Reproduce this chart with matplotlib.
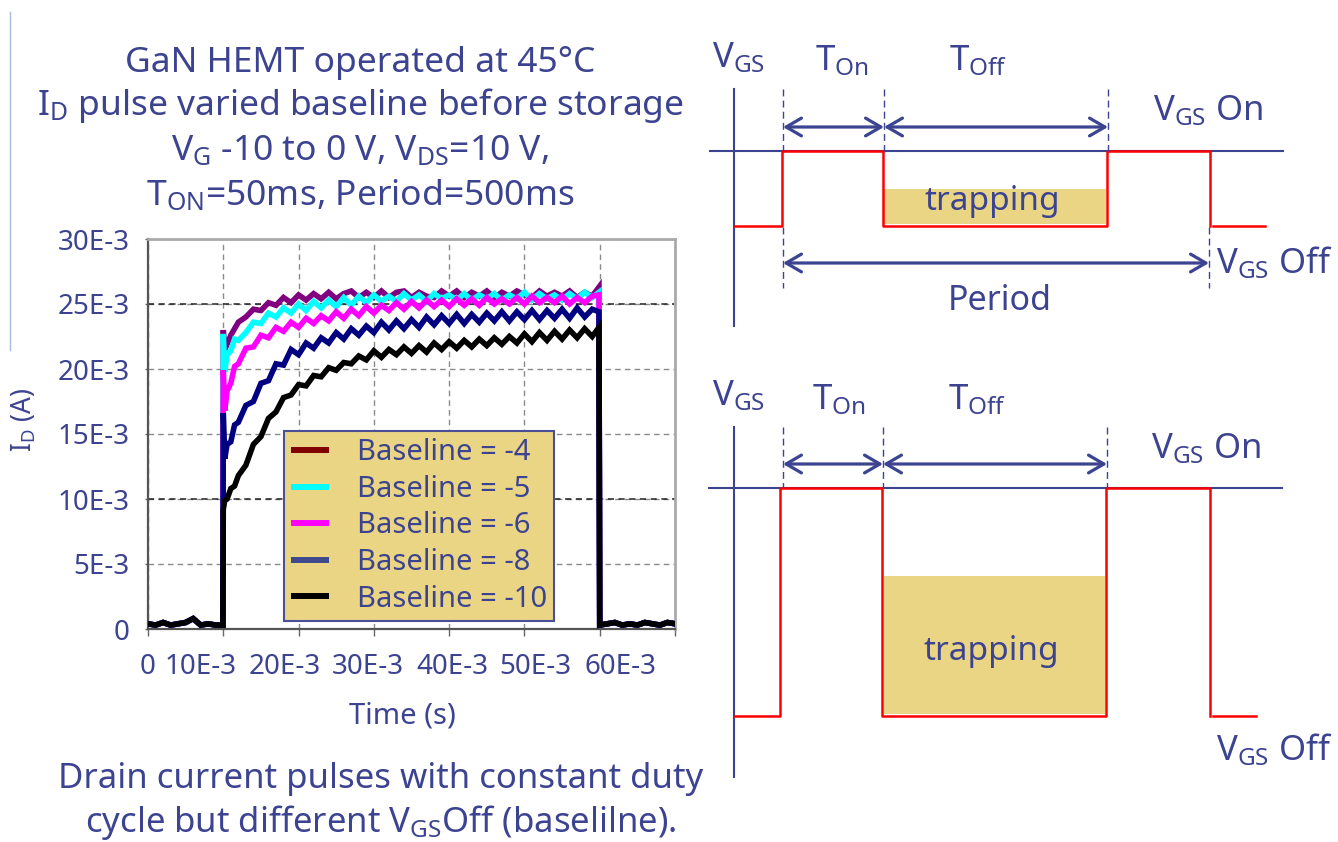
import numpy as np
import matplotlib
matplotlib.use("Agg")
import matplotlib.pyplot as plt
from matplotlib.lines import Line2D
from matplotlib.patches import Rectangle

plt.rcParams['font.family'] = ['Noto Sans', 'DejaVu Sans']
plt.rcParams['mathtext.fontset'] = 'custom'
plt.rcParams['mathtext.rm'] = 'Noto Sans'
plt.rcParams['mathtext.it'] = 'Noto Sans:italic'
plt.rcParams['mathtext.bf'] = 'Noto Sans:bold'

TXT = '#3C4390'

# ---------------- data (time in ms, current in mA) ----------------
pre_t_ms = [0, 1, 2, 3, 4, 5, 6, 7, 8, 9, 9.95]
pre_mA = [0.4, 0.3, 0.5, 0.3, 0.4, 0.5, 0.8, 0.3, 0.4, 0.3, 0.3]

pulse_t_ms = [10.0, 10.2, 10.5, 11, 11.5, 12,
              13, 14, 15, 16, 17, 18, 19, 20, 21, 22,
              23, 24, 25, 26, 27, 28, 29, 30, 31, 32,
              33, 34, 35, 36, 37, 38, 39, 40, 41, 42,
              43, 44, 45, 46, 47, 48, 49, 50, 51, 52,
              53, 54, 55, 56, 57, 58, 59, 59.9]

post_t_ms = [60.0, 61, 62, 63, 64, 65, 66, 67, 68, 69, 70]
post_mA = [0.3, 0.4, 0.5, 0.3, 0.4, 0.3, 0.5, 0.4, 0.3, 0.5, 0.4]

id_base_m4 = [23.0, 21.5, 21.9, 22.6, 23.1, 23.6,
              24.0, 24.6, 24.5, 25.1, 24.9, 25.5, 25.1, 25.7, 25.3, 25.8,
              25.4, 25.9, 25.4, 25.8, 26.0, 25.5, 25.9, 25.5, 26.0, 25.5,
              25.9, 26.0, 25.5, 25.9, 25.6, 25.5, 26.0, 25.6, 26.0, 25.5,
              25.9, 25.6, 26.0, 25.5, 25.9, 25.6, 26.0, 25.7, 25.5, 26.0,
              25.6, 25.9, 25.6, 26.0, 25.5, 25.9, 25.6, 26.3]
id_base_m5 = [22.7, 19.8, 21.1, 21.4, 22.3, 22.2,
              22.8, 23.6, 23.5, 24.3, 24.0, 24.7, 24.3, 25.0, 24.5, 25.2,
              24.7, 25.3, 24.8, 25.5, 24.9, 25.6, 25.1, 25.7, 25.2, 25.6,
              25.2, 25.8, 25.3, 25.7, 25.2, 25.8, 25.4, 25.7, 25.3, 25.8,
              25.3, 25.7, 25.4, 25.8, 25.3, 25.7, 25.4, 25.9, 25.3, 25.8,
              25.4, 25.7, 25.3, 25.8, 25.4, 25.9, 25.5, 25.9]
id_base_m6 = [19.9, 16.8, 18.3, 18.9, 20.2, 20.4,
              21.6, 21.7, 22.6, 22.4, 23.2, 22.9, 23.6, 23.2, 23.9, 23.5,
              24.1, 23.7, 24.4, 23.9, 24.6, 24.1, 24.8, 24.3, 24.9, 24.5,
              25.1, 24.6, 25.2, 24.7, 25.3, 24.8, 25.3, 24.8, 25.4, 24.9,
              25.4, 24.9, 25.5, 25.0, 25.4, 25.0, 25.5, 25.0, 25.6, 25.1,
              25.5, 25.1, 25.6, 25.0, 25.5, 25.1, 25.6, 25.7]
id_base_m8 = [16.6, 13.1, 14.2, 14.4, 15.7, 15.9,
              17.2, 17.5, 18.9, 19.1, 20.4, 20.3, 21.5, 21.1, 22.0, 21.6,
              22.4, 22.0, 22.8, 22.3, 23.1, 22.6, 23.3, 22.8, 23.6, 23.0,
              23.7, 23.1, 23.8, 23.2, 24.0, 23.4, 24.1, 23.5, 24.2, 23.5,
              24.2, 23.6, 24.3, 23.7, 24.4, 23.7, 24.4, 23.8, 24.5, 23.8,
              24.5, 23.9, 24.6, 23.9, 24.7, 24.0, 24.6, 24.4]
id_base_m10 = [9.2, 9.9, 10.0, 10.8, 11.0, 11.8,
               12.6, 14.2, 14.8, 16.2, 16.7, 17.8, 18.0, 18.8, 18.7, 19.5,
               19.4, 20.1, 19.9, 20.5, 20.4, 21.0, 20.7, 21.4, 20.9, 21.5,
               21.1, 21.7, 21.2, 21.8, 21.3, 22.0, 21.5, 22.1, 21.6, 22.2,
               21.7, 22.3, 21.8, 22.4, 21.9, 22.5, 22.0, 22.7, 22.1, 22.8,
               22.2, 22.9, 22.3, 23.0, 22.4, 23.1, 22.5, 23.2]

legend_labels = ['Baseline = -4', 'Baseline = -5', 'Baseline = -6', 'Baseline = -8', 'Baseline = -10']
series_values = [id_base_m4, id_base_m5, id_base_m6, id_base_m8, id_base_m10]
line_colors = ['#800080', '#00FFFF', '#FF00FF', '#000080', '#000000']
legend_colors = ['#800000', '#00FFFF', '#FF00FF', '#3F4A8C', '#000000']

ytick_vals = [0, 5e-3, 10e-3, 15e-3, 20e-3, 25e-3, 30e-3]
ytick_labels = ['0', '5E-3', '10E-3', '15E-3', '20E-3', '25E-3', '30E-3']
xtick_vals = [0, 10e-3, 20e-3, 30e-3, 40e-3, 50e-3, 60e-3, 70e-3]
xtick_labels = ['0', '10E-3', '20E-3', '30E-3', '40E-3', '50E-3', '60E-3']
xlabel_pos = [0.0, 7.0e-3, 18.1e-3, 29.2e-3, 40.4e-3, 51.5e-3, 62.7e-3]
dark_grid_y = [10e-3, 25e-3]

W, H = 1338, 842
fig = plt.figure(figsize=(W / 100, H / 100), dpi=100, facecolor='white')

# overlay axes in pixel coordinates for texts and schematic diagrams
ov = fig.add_axes([0, 0, 1, 1], zorder=0)
ov.set_xlim(0, W)
ov.set_ylim(H, 0)
ov.axis('off')

# ---------------- main chart ----------------
ax = fig.add_axes([148 / W, 1 - 629 / H, 527 / W, 390 / H], zorder=2)
ax.set_xlim(0, 70e-3)
ax.set_ylim(0, 30e-3)

for vals, col in zip(series_values, line_colors):
    t = np.array(pre_t_ms + pulse_t_ms + post_t_ms) * 1e-3
    y = np.array(pre_mA + vals + post_mA) * 1e-3
    ax.plot(t, y, color=col, lw=4, solid_joinstyle='miter', zorder=3)

ax.xaxis.remove_overlapping_locs = False
ax.set_xticks(xtick_vals)
ax.set_xticklabels([])
ax.set_xticks(xlabel_pos, labels=xtick_labels, minor=True)
ax.tick_params(axis='x', which='major', length=5, width=1, color='#666666', direction='out')
ax.tick_params(axis='x', which='minor', length=0, pad=17.5, labelsize=20, labelcolor=TXT)
ax.set_yticks(ytick_vals, labels=ytick_labels)
ax.tick_params(axis='y', length=2.5, width=1, color='#666666', pad=10.5, labelsize=20, labelcolor=TXT)

ax.grid(True, which='major', color='#8a8a8a', ls=(0, (4, 3)), lw=1)
for yv in dark_grid_y:
    ax.axhline(yv, color='#222222', ls=(0, (4, 3)), lw=1.1, zorder=1)
ax.set_axisbelow(True)

for side in ['left', 'bottom']:
    ax.spines[side].set_color('#555555')
    ax.spines[side].set_linewidth(1.6)
for side in ['top', 'right']:
    ax.spines[side].set_color('#AAAAAA')
    ax.spines[side].set_linewidth(2)

ax.set_xlabel('Time (s)', fontsize=21, color=TXT, va='top')
ax.xaxis.set_label_coords((402 - 148) / 527, (629 - 701) / 390)
ax.set_ylabel(r'I$_\mathregular{D}$ (A)', fontsize=19, color=TXT)
ax.yaxis.set_label_coords((38 - 148) / 527, (629 - 420) / 390)

handles = [Line2D([], [], color=c, lw=4.3, solid_capstyle='butt') for c in legend_colors]
leg = ax.legend(handles, legend_labels, loc='upper left', bbox_to_anchor=((284 - 148) / 527, (629 - 431) / 390),
                borderaxespad=0, fontsize=21, labelcolor=TXT, facecolor='#EAD585', edgecolor='#4A4F96',
                framealpha=1, fancybox=False, handlelength=1.3, handletextpad=0.95, labelspacing=0.26,
                borderpad=0.25)
leg.get_frame().set_linewidth(1.5)
leg.set_zorder(5)

# ---------------- titles ----------------
title_lines = ['GaN HEMT operated at 45°C',
               r'I$_\mathregular{D}$ pulse varied baseline before storage',
               r'V$_\mathregular{G}$ -10 to 0 V, V$_\mathregular{DS}$=10 V,',
               r'T$_\mathregular{ON}$=50ms, Period=500ms']
title_base = [72, 115, 160, 205]
for s, yb in zip(title_lines, title_base):
    ov.text(360, yb, s, ha='center', va='baseline', fontsize=25.5, color=TXT)

bottom_lines = ['Drain current pulses with constant duty',
                r'cycle but different V$_\mathregular{GS}$Off (baselilne).']
bottom_base = [788, 832]
for s, yb in zip(bottom_lines, bottom_base):
    ov.text(381, yb, s, ha='center', va='baseline', fontsize=25, color=TXT)

ov.plot([10, 10], [12, 350], color='#AAB6E6', lw=1)

# ---------------- schematic diagrams ----------------
RED = '#FF0000'
KHAKI = '#EAD585'
arrow_style = '<->,head_length=0.55,head_width=0.32'


def arrow(x1, x2, y):
    ov.annotate('', xy=(x2, y), xytext=(x1, y),
                arrowprops=dict(arrowstyle=arrow_style, lw=2.3, color=TXT, shrinkA=0, shrinkB=0,
                                mutation_scale=20))


def dashed(x, y1, y2):
    ov.plot([x, x], [y1, y2], color=TXT, lw=1, ls=(0, (5, 3)))


def panel(p):
    yon, yoff = p['y_on'], p['y_off']
    ov.plot([734, 734], p['axis'], color=TXT, lw=1.5)
    ov.plot([p['hx0'], p['hx1']], [yon, yon], color=TXT, lw=1.5)
    tx0, tx1, tt, tb = p['trap']
    ov.add_patch(Rectangle((tx0, tt), tx1 - tx0, tb - tt, facecolor=KHAKI, edgecolor='none'))
    xs = p['edges']
    ov.plot([735, xs[0], xs[0], xs[1], xs[1], xs[2], xs[2], xs[3], xs[3]],
            [yoff, yoff, yon, yon, yoff, yoff, yon, yon, yoff], color=RED, lw=1.8)
    ov.plot([xs[3] + 3, p['tail']], [yoff, yoff], color=RED, lw=1.8)
    for x, y1, y2 in p['dashes']:
        dashed(x, y1, y2)
    for x1, x2, y in p['arrows']:
        arrow(x1, x2, y)
    fs = 25
    ov.text(712, p['vgs_b'], r'V$_\mathregular{GS}$', fontsize=fs, color=TXT, va='baseline')
    ov.text(p['ton_x'], p['t_b'], r'T$_\mathregular{On}$', fontsize=fs, color=TXT, va='baseline')
    ov.text(p['toff_x'], p['t_b'], r'T$_\mathregular{Off}$', fontsize=fs, color=TXT, va='baseline')
    ov.text(p['on_x'], p['on_b'], r'V$_\mathregular{GS}$ On', fontsize=fs, color=TXT, va='baseline')
    ov.text(p['off_x'], p['off_b'], r'V$_\mathregular{GS}$ Off', fontsize=fs, color=TXT, va='baseline')
    ov.text(p['trap_tx'], p['trap_tb'], 'trapping', fontsize=24, color=TXT, ha='center', va='baseline')
    if p.get('period'):
        px, pb = p['period']
        ov.text(px, pb, 'Period', fontsize=24.5, color=TXT, ha='center', va='baseline')


top_panel = dict(y_on=151, y_off=226, axis=[89, 326], hx0=710, hx1=1283,
                 trap=(884, 1106, 189, 224), edges=[782, 883, 1107, 1210], tail=1265,
                 dashes=[(783, 89, 151), (783, 227, 288), (884, 89, 151), (1108, 89, 151), (1209, 227, 288)],
                 arrows=[(783, 884, 127), (884, 1108, 127), (783, 1209, 263)],
                 vgs_b=67, ton_x=815, toff_x=949, t_b=70, on_x=1153, on_b=120, off_x=1216, off_b=273,
                 trap_tx=992, trap_tb=210, period=(1000, 310))
bottom_panel = dict(y_on=488, y_off=716, axis=[427, 777], hx0=709, hx1=1282,
                    trap=(884, 1105, 576, 714), edges=[780, 882, 1106, 1210], tail=1256,
                    dashes=[(783, 427, 488), (883, 427, 488), (1107, 427, 488)],
                    arrows=[(783, 883, 464), (883, 1107, 464)],
                    vgs_b=405, ton_x=812, toff_x=948, t_b=409, on_x=1151, on_b=458, off_x=1216, off_b=760,
                    trap_tx=991, trap_tb=660)
panel(top_panel)
panel(bottom_panel)

fig.savefig('out.png', dpi=100, facecolor='white')
